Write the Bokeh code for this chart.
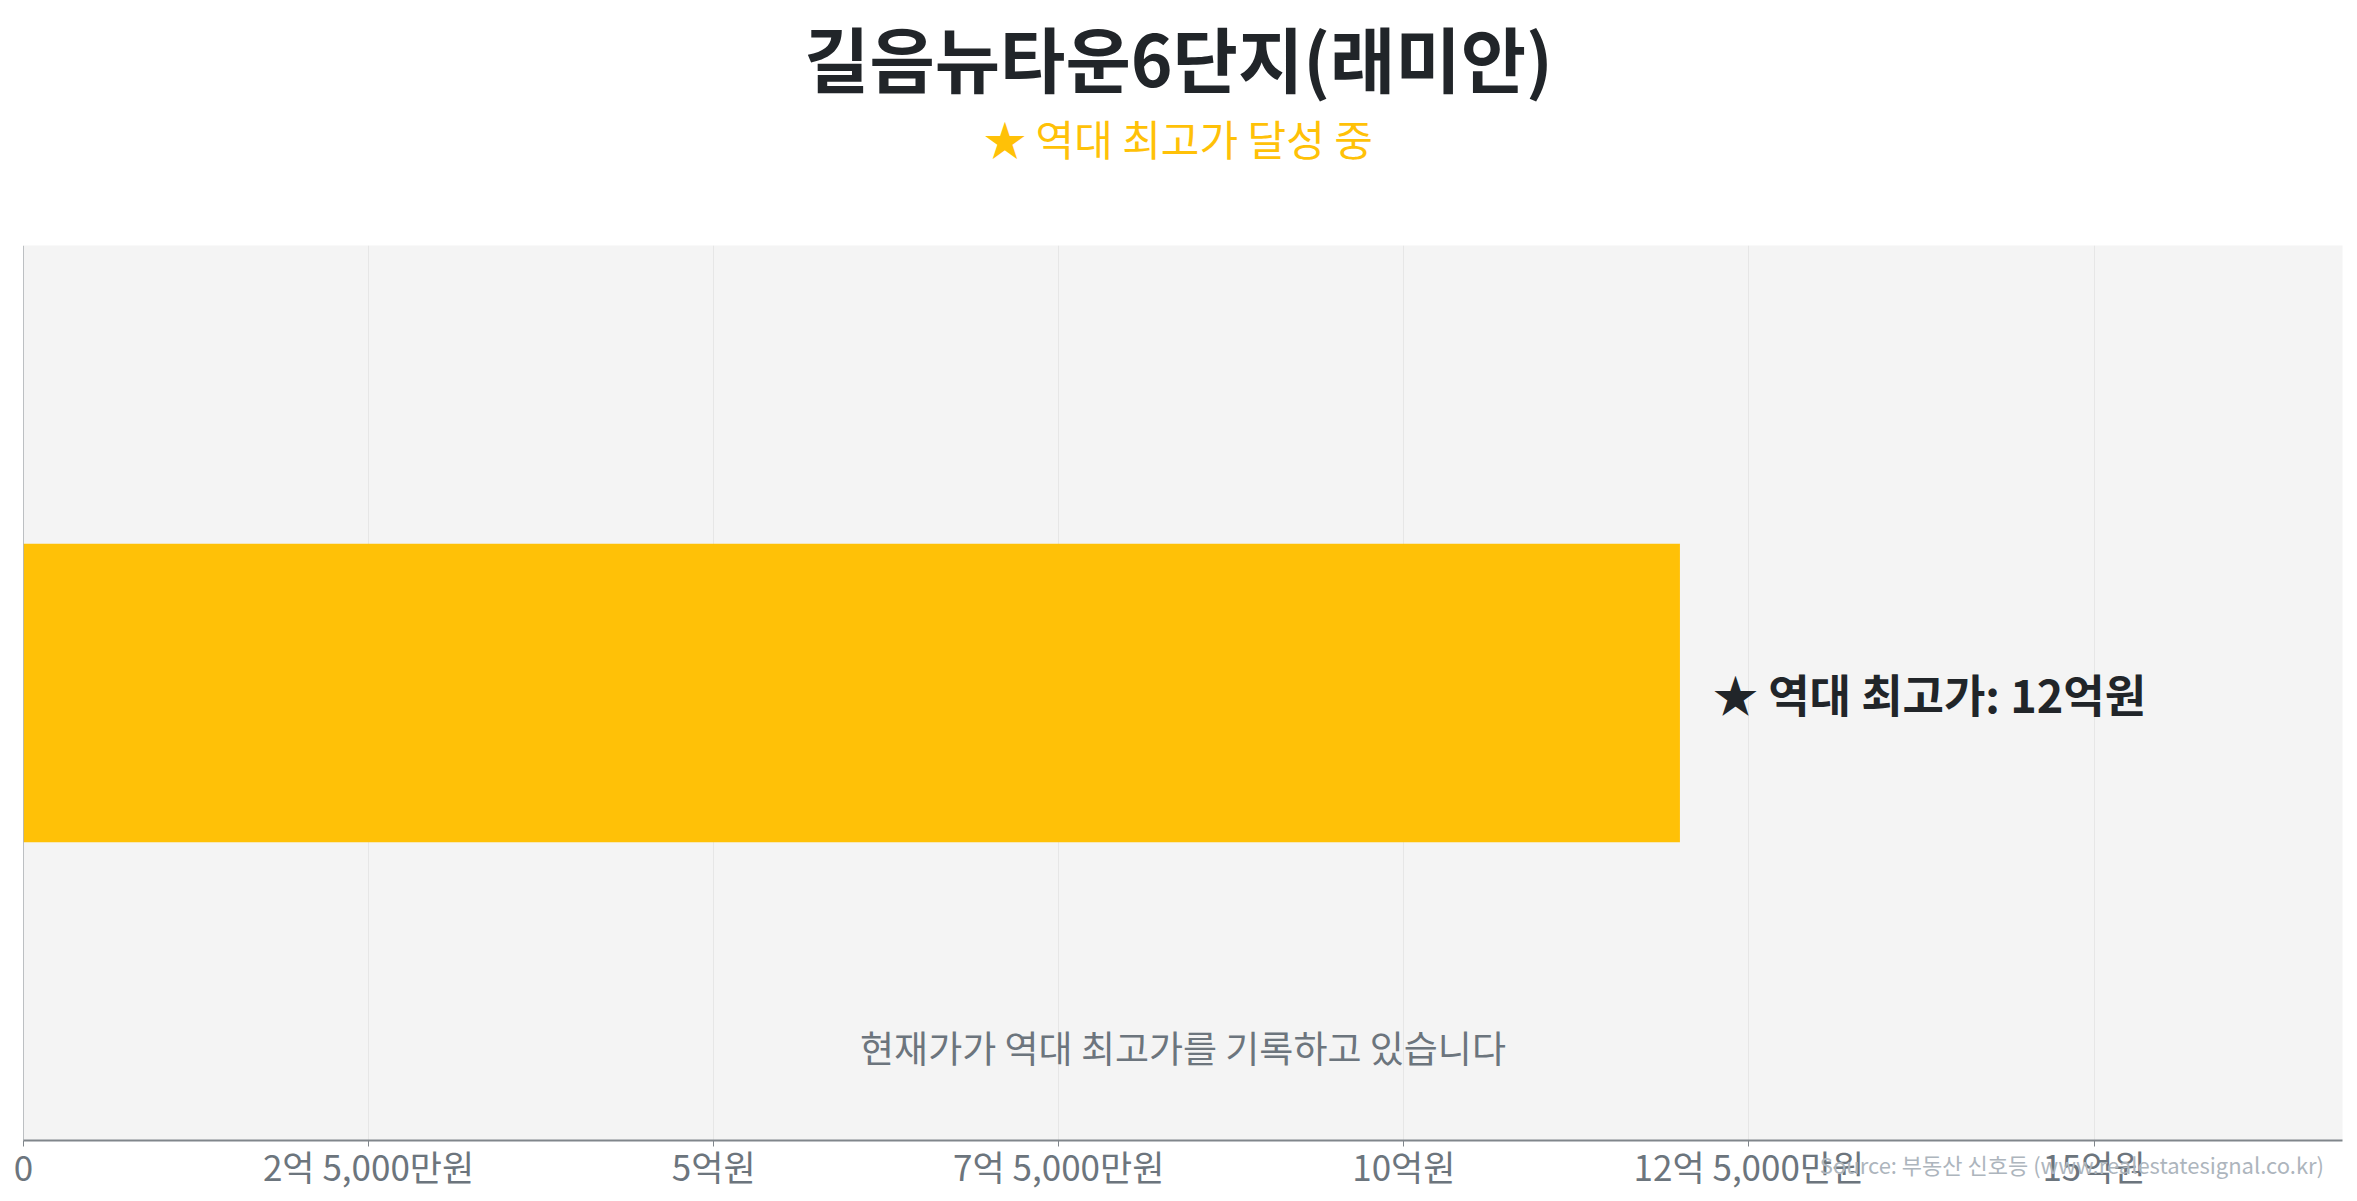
from bokeh.plotting import figure
from bokeh.layouts import column
from bokeh.models import Range1d, FixedTicker, Span, Label, ColumnDataSource, LinearAxis
from bokeh.core.properties import value
from bokeh.embed import file_html
from bokeh.resources import INLINE

# ---- data ----
complex_names = ["길음뉴타운6단지(래미안)"]
record_price = [1200000000]          # 역대 최고가 (원)
tick_values = [0, 250000000, 500000000, 750000000, 1000000000, 1250000000, 1500000000]
tick_labels = ["0", "2억 5,000만원", "5억원", "7억 5,000만원", "10억원", "12억 5,000만원", "15억원"]
title_text = "길음뉴타운6단지(래미안)"
subtitle_text = "★ 역대 최고가 달성 중"
bar_label_text = ["★ 역대 최고가: 12억원"]
note_text = "현재가가 역대 최고가를 기록하고 있습니다"
source_text = "Source: 부동산 신호등 (www.realestatesignal.co.kr)"

FONT = "Noto Sans CJK KR"
x_end = record_price[0] * 1.4
W = 2349

# ---- header (title + subtitle) ----
h = figure(width=W, height=245, output_backend="svg", toolbar_location=None,
           x_range=Range1d(0, 1), y_range=Range1d(0, 1),
           x_axis_location=None, y_axis_location=None,
           min_border_left=0, min_border_right=0, min_border_top=0, min_border_bottom=0)
h.title.visible = False
h.grid.visible = False
h.outline_line_color = None
h.background_fill_color = "white"
h.border_fill_color = "white"
h.add_layout(Label(x=1155, y=190, x_units="screen", y_units="screen", text=title_text,
                   text_align="center", text_baseline="middle", text_font=FONT,
                   text_font_size="71px", text_font_style="bold", text_color="#212529"))
h.add_layout(Label(x=1155, y=108, x_units="screen", y_units="screen", text=subtitle_text,
                   text_align="center", text_baseline="middle", text_font=FONT,
                   text_font_size="42px", text_color="#FFC107"))

# ---- main chart ----
p = figure(width=W, height=948, output_backend="svg", toolbar_location=None,
           x_range=Range1d(0, x_end), y_range=Range1d(0, 1),
           y_axis_location=None, min_border_left=23, min_border_right=7,
           min_border_bottom=0, min_border_top=0)
p.title.visible = False
p.border_fill_color = "white"
p.background_fill_color = "#f4f4f4"
p.outline_line_color = None

src = ColumnDataSource(dict(y=[0.5], right=record_price, name=complex_names, lab=bar_label_text))
p.hbar(y="y", left=0, right="right", height=1/3, source=src, fill_color="#FFC107", line_color=None)

p.text(x="right", y="y", text="lab", source=src, x_offset=33, text_baseline="middle",
       text_align="left", text_font=value(FONT), text_font_size="45px", text_font_style="bold",
       text_color="#212529")

p.ygrid.grid_line_color = None
p.xgrid.grid_line_color = "#e6e6e6"
p.xgrid.grid_line_width = 1
ax = p.xaxis[0]
ax.ticker = FixedTicker(ticks=tick_values)
ax.major_label_overrides = {v: l for v, l in zip(tick_values, tick_labels)}
ax.minor_tick_line_color = None
ax.major_tick_in = 0
ax.major_tick_out = 6
ax.major_tick_line_color = "#80868b"
ax.axis_line_color = "#80868b"
ax.axis_line_width = 2
ax.major_label_text_font = FONT
ax.major_label_text_font_size = "35px"
ax.major_label_text_color = "#6c757d"
ax.major_label_standoff = -7

# source note: a second, line-less axis whose single label sits beside the tick labels
src_pos = 1484000000
src_axis = LinearAxis(ticker=FixedTicker(ticks=[src_pos]),
                      major_label_overrides={src_pos: source_text},
                      axis_line_color=None, major_tick_line_color=None,
                      minor_tick_line_color=None, major_tick_in=0, major_tick_out=0,
                      major_label_standoff=-46, major_label_text_font=FONT,
                      major_label_text_font_size="22px", major_label_text_color="#adb5bd")
p.add_layout(src_axis, "below")

p.add_layout(Span(location=0, dimension="height", line_color="#80868b", line_width=1))

p.add_layout(Label(x=x_end / 2, y=0.104, text=note_text, text_align="center",
                   text_baseline="middle", text_font=FONT, text_font_size="37px",
                   text_color="#6c757d"))

layout = column(h, p)
open("out.html", "w").write(file_html(layout, INLINE))
